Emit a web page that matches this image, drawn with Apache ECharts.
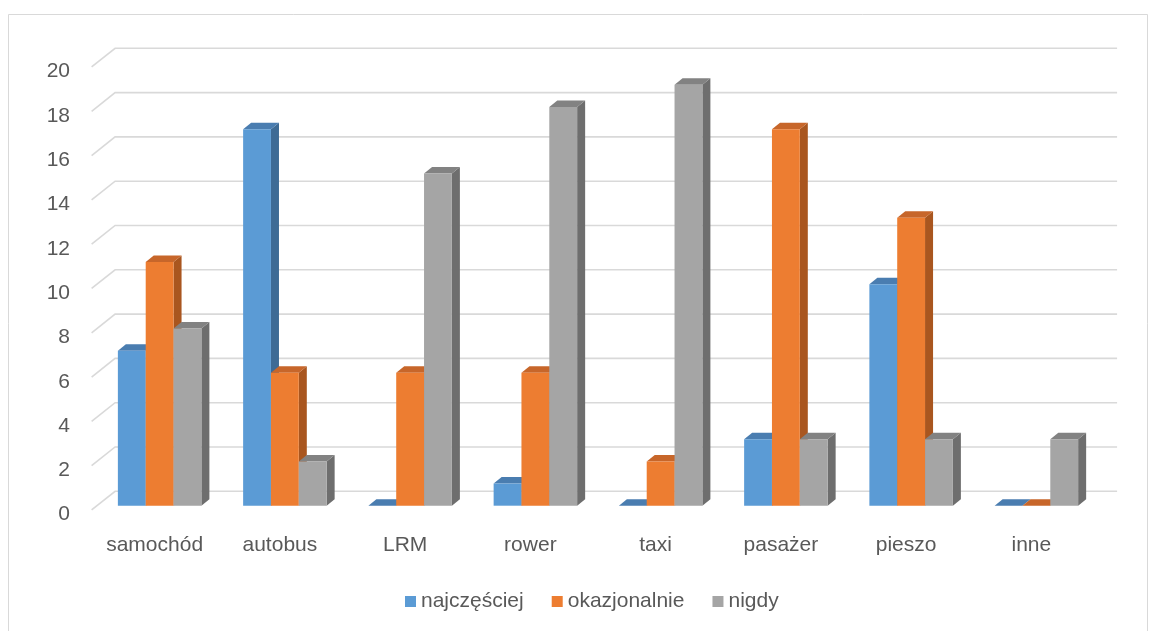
<!DOCTYPE html>
<html>
<head>
<meta charset="utf-8">
<script src="https://cdn.jsdelivr.net/npm/echarts@6/dist/echarts.min.js"></script>
<style>
  html, body { margin: 0; padding: 0; background: #ffffff; }
  #chart { width: 1157px; height: 631px; }
</style>
</head>
<body>
<div id="chart"></div>
<script>
// Categories and values for each answer group
const categories = ['samochód', 'autobus', 'LRM', 'rower', 'taxi', 'pasażer', 'pieszo', 'inne'];
const seriesNames = ['najczęściej', 'okazjonalnie', 'nigdy'];
const najczesciej = [7, 17, 0, 1, 0, 3, 10, 0];
const okazjonalnie = [11, 6, 6, 6, 2, 17, 13, 0];
const nigdy = [8, 2, 15, 18, 19, 3, 3, 3];
const yTicks = [0, 2, 4, 6, 8, 10, 12, 14, 16, 18, 20];

// Face colours: front, side, top
const palette = [
  { front: '#5B9BD5', side: '#3E6B95', top: '#4A7DB0' },
  { front: '#ED7D31', side: '#A9561F', top: '#C7662A' },
  { front: '#A5A5A5', side: '#6E6E6E', top: '#828282' }
];

// Perspective offsets, as fractions of one category band width
const BAR_DX = 0.064, BAR_DY = -0.052;      // depth of a single column
const WALL_BACK_DX = 0.1445, WALL_BACK_DY = -0.115;  // back wall vs. column front plane
const WALL_FRONT_DX = -0.043, WALL_FRONT_DY = 0.034; // floor front edge vs. column front plane

const textColor = '#595959';
const fontFamily = '"Liberation Sans", Arial, sans-serif';
const fontSize = 21;

function barRenderer(idx) {
  const c = palette[idx];
  return function (params, api) {
    const j = api.value(0);
    const v = api.value(1);
    const base = api.coord([j, 0]);
    const top = api.coord([j, v]);
    const band = api.size([1, 0])[0];
    const w = band / 4.5;
    const x0 = base[0] - 1.5 * w + idx * w;
    const x1 = x0 + w;
    const yT = top[1], yB = base[1];
    const dx = band * BAR_DX, dy = band * BAR_DY;
    return {
      type: 'group',
      children: [
        {
          type: 'polygon',
          shape: { points: [[x1, yT], [x1 + dx, yT + dy], [x1 + dx, yB + dy], [x1, yB]] },
          style: { fill: c.side }
        },
        {
          type: 'polygon',
          shape: { points: [[x0, yT], [x1, yT], [x1 + dx, yT + dy], [x0 + dx, yT + dy]] },
          style: { fill: c.top }
        },
        {
          type: 'rect',
          shape: { x: x0, y: yT, width: w, height: yB - yT },
          style: { fill: c.front }
        }
      ]
    };
  };
}

function gridRenderer(params, api) {
  const cs = params.coordSys;
  const band = api.size([1, 0])[0];
  const y = api.coord([0, api.value(1)])[1];
  const left = cs.x, right = cs.x + cs.width;
  return {
    type: 'polyline',
    shape: {
      points: [
        [left + band * WALL_FRONT_DX, y + band * WALL_FRONT_DY],
        [left + band * WALL_BACK_DX, y + band * WALL_BACK_DY],
        [right + band * WALL_BACK_DX, y + band * WALL_BACK_DY]
      ]
    },
    style: { stroke: '#D9D9D9', lineWidth: 1.6, fill: null }
  };
}

const valueSets = [najczesciej, okazjonalnie, nigdy];

const option = {
  backgroundColor: '#ffffff',
  animation: false,
  graphic: [{
    type: 'rect',
    shape: { x: 8.5, y: 14.5, width: 1139, height: 640 },
    style: { fill: null, stroke: '#D9D9D9', lineWidth: 1 },
    silent: true
  }],
  grid: { left: 97, right: 58, top: 62.7, bottom: 125.3, containLabel: false },
  xAxis: {
    type: 'category',
    data: categories,
    axisLine: { show: false },
    axisTick: { show: false },
    splitLine: { show: false },
    axisLabel: {
      color: textColor, fontSize: fontSize, fontFamily: fontFamily,
      margin: 29, padding: [0, 10, 0, 0], interval: 0
    }
  },
  yAxis: {
    type: 'value',
    min: 0, max: 20, interval: 2,
    axisLine: { show: false },
    axisTick: { show: false },
    splitLine: { show: false },
    axisLabel: {
      color: textColor, fontSize: fontSize, fontFamily: fontFamily,
      margin: 27, verticalAlign: 'top', lineHeight: 18
    }
  },
  legend: {
    data: seriesNames,
    left: 400, top: 586,
    icon: 'rect',
    itemWidth: 11, itemHeight: 11, itemGap: 28,
    textStyle: { color: textColor, fontSize: fontSize, fontFamily: fontFamily },
    selectedMode: false
  },
  series: [
    {
      type: 'custom',
      name: 'grid',
      silent: true,
      z: 1,
      renderItem: gridRenderer,
      encode: { x: 0, y: 1 },
      data: yTicks.map(t => [0, t])
    }
  ].concat(seriesNames.map((name, i) => ({
    type: 'custom',
    name: name,
    z: 2 + i,
    itemStyle: { color: palette[i].front },
    renderItem: barRenderer(i),
    encode: { x: 0, y: 1 },
    data: valueSets[i].map((v, j) => [j, v])
  })))
};

const chart = echarts.init(document.getElementById('chart'), null, { renderer: 'canvas' });
chart.setOption(option);
</script>
</body>
</html>
